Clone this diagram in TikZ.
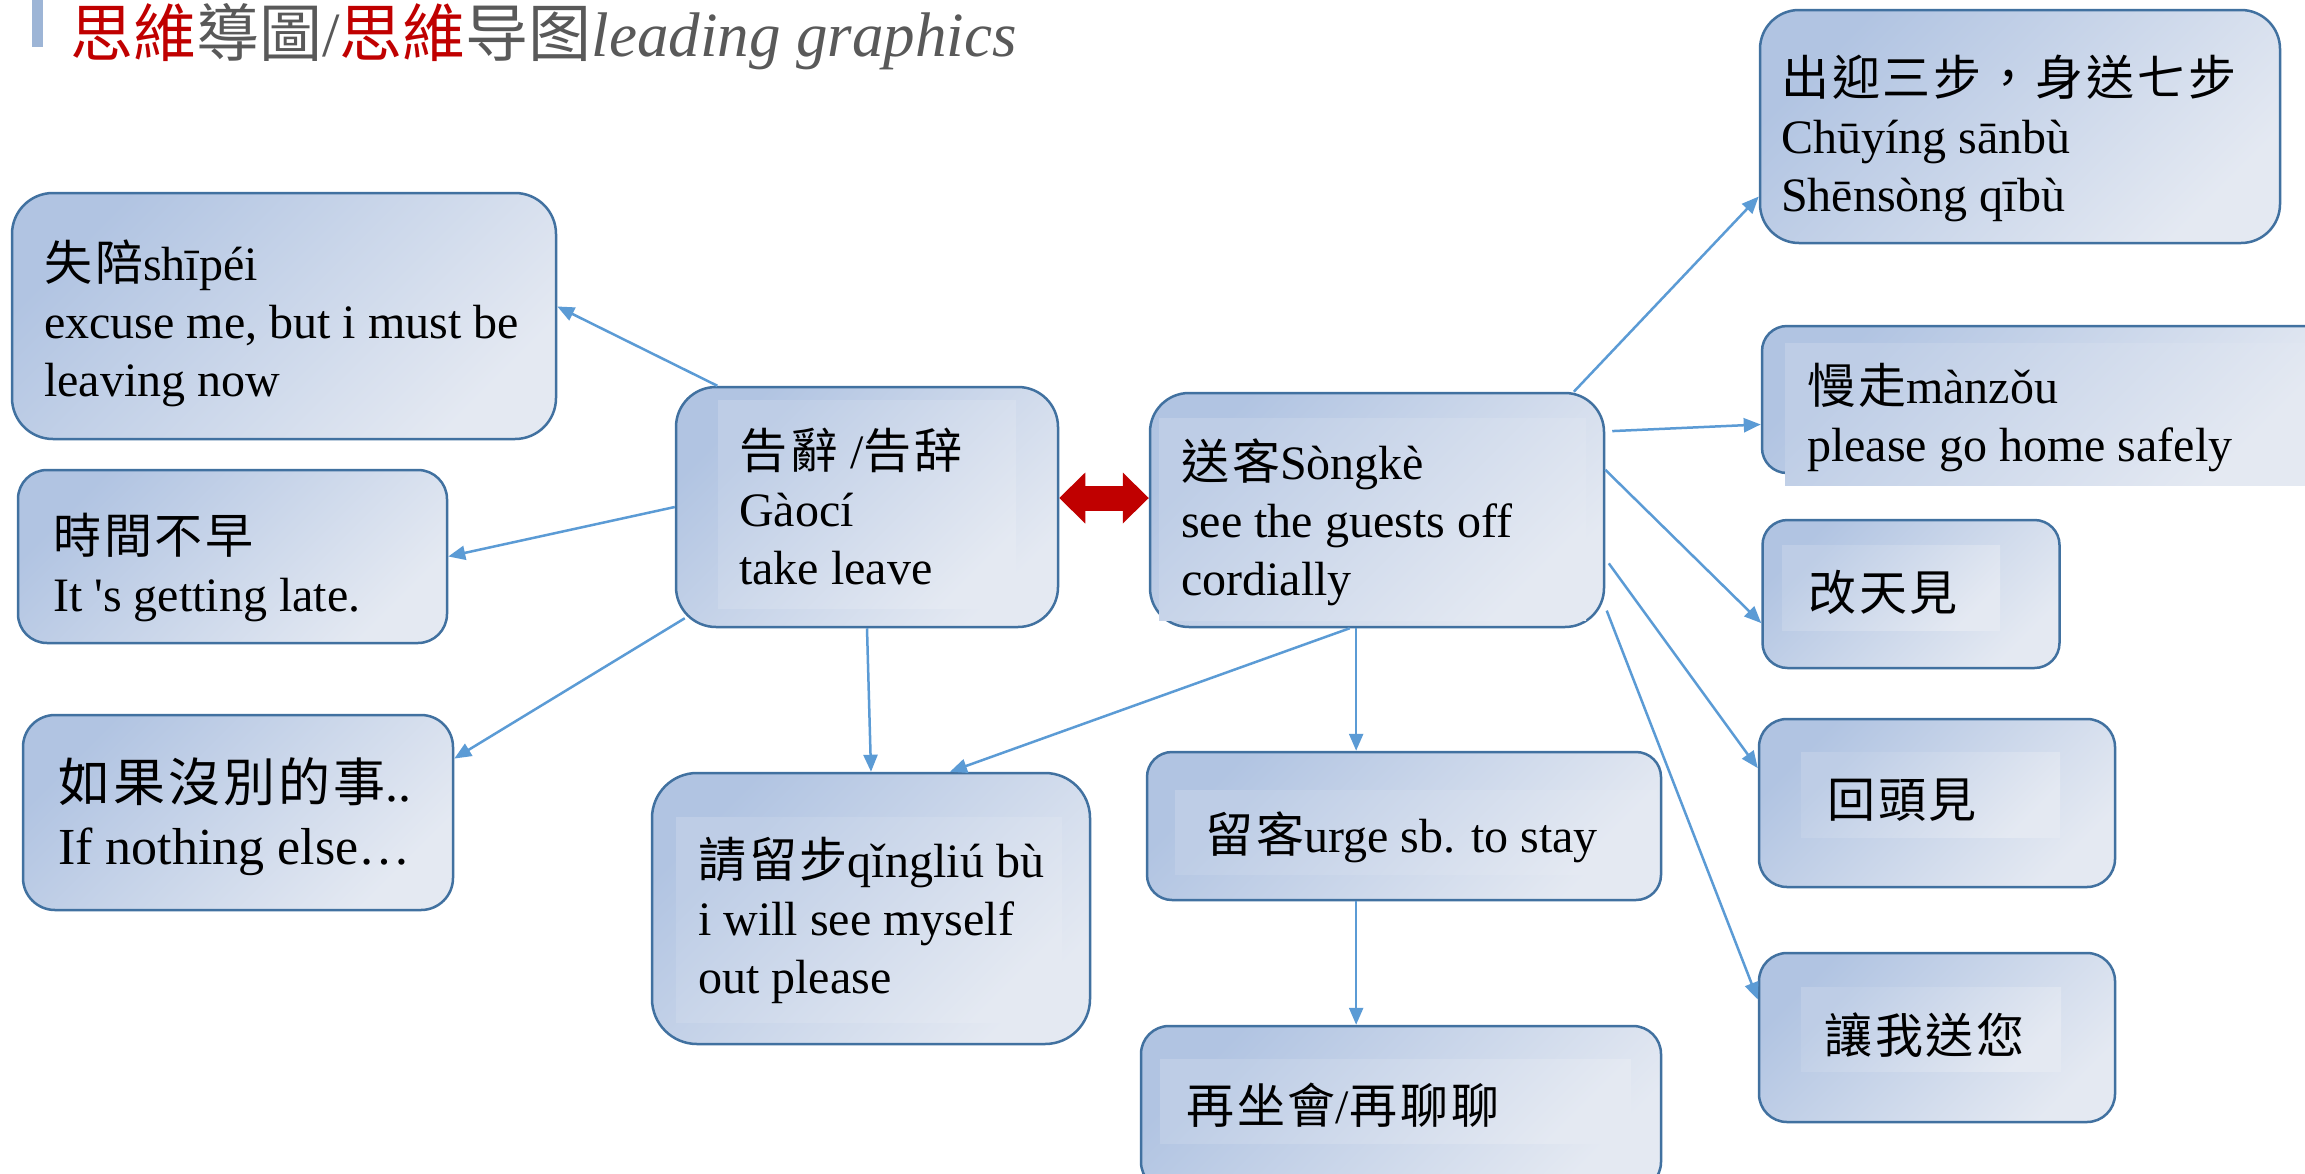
\documentclass[tikz,border=0pt]{standalone}
\usepackage{fontspec}
\usepackage{tikz}
\setmainfont{Liberation Serif}
\newfontfamily\cjk[LetterSpace=6]{Noto Sans CJK TC}
\newfontfamily\cjktitle{Noto Sans CJK TC}
\usetikzlibrary{arrows.meta}
\definecolor{boxline}{RGB}{65,113,160}
\definecolor{boxtop}{RGB}{177,196,226}
\definecolor{boxbot}{RGB}{228,233,242}
\definecolor{linkblue}{RGB}{91,155,213}
\definecolor{titlered}{RGB}{192,0,0}
\definecolor{titlegray}{RGB}{89,89,89}
\definecolor{titlebar}{RGB}{157,181,214}
\newcommand{\zh}[1]{{\cjk #1}}
\tikzset{
  box/.style={draw=boxline, line width=2.5pt, rounded corners=30pt, top color=boxtop, bottom color=boxbot, shading angle=45, inner sep=0pt},
  tbox/.style={top color=boxtop!75!boxbot, bottom color=boxbot, shading angle=45},
  txt/.style={anchor=west, align=left, inner sep=0pt, font=\fontsize{48}{58}\selectfont},
  link/.style={draw=linkblue, line width=2.5pt, -{Triangle[length=17pt,width=14pt]}},
  dblred/.style={draw=titlered, line width=25pt, {Triangle[length=26pt,width=51pt,line width=0pt]}-{Triangle[length=26pt,width=51pt,line width=0pt]}}
}

\begin{document}
\begin{tikzpicture}[line cap=butt,line join=miter,x=1pt,y=-1pt]
  \useasboundingbox (0,0) rectangle (2305,1173);
  \clip (0,0) rectangle (2305,1173);
  \fill[white] (0,0) rectangle (2305,1173);
  % title
  \fill[titlebar] (32,0) rectangle (43,47);
  \node[anchor=base west, inner sep=0pt, font=\fontsize{63}{70}\selectfont] (title) at (70,56)
    {\textcolor{titlered}{\cjktitle 思維}\textcolor{titlegray}{{\cjktitle 導圖}/}\textcolor{titlered}{\cjktitle 思維}\textcolor{titlegray}{{\cjktitle 导图}\itshape leading graphics}};
  % boxes
  \node[box, minimum width=544pt, minimum height=246pt, rounded corners=41pt] (shipei) at (284,316) {};
  \node[box, minimum width=429pt, minimum height=173pt, rounded corners=29pt] (shijian) at (232.5,556.5) {};
  \node[box, minimum width=430pt, minimum height=195pt, rounded corners=32pt] (rugo) at (238,812.5) {};
  \node[box, minimum width=382pt, minimum height=240pt, rounded corners=40pt] (gaoci) at (867,507) {};
  \node[box, minimum width=438pt, minimum height=271pt, rounded corners=45pt] (qingliu) at (871,908.5) {};
  \node[box, minimum width=454pt, minimum height=234pt, rounded corners=39pt] (songke) at (1377,510) {};
  \node[box, minimum width=514pt, minimum height=148pt, rounded corners=25pt] (liuke) at (1404,826) {};
  \node[box, minimum width=520pt, minimum height=164pt, rounded corners=28pt] (zaizuo) at (1401,1108) {};
  \node[box, minimum width=520pt, minimum height=233pt, rounded corners=39pt] (chuying) at (2020,126.5) {};
  \node[box, minimum width=568pt, minimum height=147pt, rounded corners=25pt] (manzou) at (2046,399.5) {};
  \node[box, minimum width=297pt, minimum height=148pt, rounded corners=25pt] (gaitian) at (1911,594) {};
  \node[box, minimum width=356pt, minimum height=168pt, rounded corners=28pt] (huitou) at (1937,803) {};
  \node[box, minimum width=356pt, minimum height=169pt, rounded corners=28pt] (rangwo) at (1937,1037.5) {};
  % text frames inside the boxes
  \shade[tbox] (718,400) rectangle (1016,608);
  \shade[tbox] (676,817) rectangle (1062,1022);
  \shade[tbox] (1159,418) rectangle (1586,620);
  \shade[tbox] (1175,790) rectangle (1657,874);
  \shade[tbox] (1160,1059) rectangle (1631,1143);
  \shade[tbox] (1785,343) rectangle (2305,485);
  \shade[tbox] (1782,545) rectangle (2000,630);
  \shade[tbox] (1801,752) rectangle (2060,837);
  \shade[tbox] (1801,987) rectangle (2061,1071);
  % texts
  \node[txt] (shipeiT) at (44,323) {\zh{失陪}shīpéi\\excuse me, but i must be\\leaving now};
  \node[txt] (shijianT) at (53,567) {\zh{時間不早}\\It \textquotesingle s getting late.};
  \node[txt, font=\fontsize{52}{63}\selectfont] (rugoT) at (58,817) {\zh{如果沒別的事}..\\If nothing else…};
  \node[txt] (gaociT) at (739,506) {\zh{告辭} /\zh{告辞}\\Gàocí\\take leave};
  \node[txt] (qingliuT) at (698,920) {\zh{請留步}qǐngliú bù\\i will see myself\\out please};
  \node[txt] (songkeT) at (1181,522) {\zh{送客}Sòngkè\\see the guests off\\cordially};
  \node[txt] (liukeT) at (1205,837) {\zh{留客}urge sb. to stay};
  \node[txt] (zaizuoT) at (1186,1105) {\zh{再坐會}/\zh{再聊聊}};
  \node[txt] (chuyingT) at (1781,138) {\zh{出迎三步，身送七步}\\Chūyíng sānbù\\Shēnsòng qībù};
  \node[txt] (manzouT) at (1807,418) {\zh{慢走}mànzǒu\\please go home safely};
  \node[txt] (gaitianT) at (1808,592) {\zh{改天見}};
  \node[txt] (huitouT) at (1827,800) {\zh{回頭見}};
  \node[txt] (rangwoT) at (1824,1035) {\zh{讓我送您}};
  % connectors
  \draw[dblred] ([yshift=9pt]gaoci.east) -- ([yshift=9pt]gaoci.east -| songke.west);
  \draw[link] (gaoci.141) -- (shipei.2);
  \draw[link] (gaoci.west) -- (shijian.east);
  \draw[link] ([xshift=10pt,yshift=10pt]gaoci.south west) -- (rugo.14);
  \draw[link] (gaoci.south) -- (qingliu.north);
  \draw[link] (songke.-103) -- (qingliu.60);
  \draw[link] (songke.-100) -- (songke.-100 |- liuke.north);
  \draw[link] (songke.-100 |- liuke.south) -- (songke.-100 |- zaizuo.north);
  \draw[link] (songke.31) -- (chuying.195);
  \draw[link, shorten <=7pt] (songke.19) -- (manzou.185);
  \draw[link] (songke.10) -- (gaitian.191);
  \draw[link, shorten <=6pt] (songke.-12) -- (huitou.169);
  \draw[link, shorten <=4pt] (songke.-23) -- (rangwo.168);
\end{tikzpicture}
\end{document}
